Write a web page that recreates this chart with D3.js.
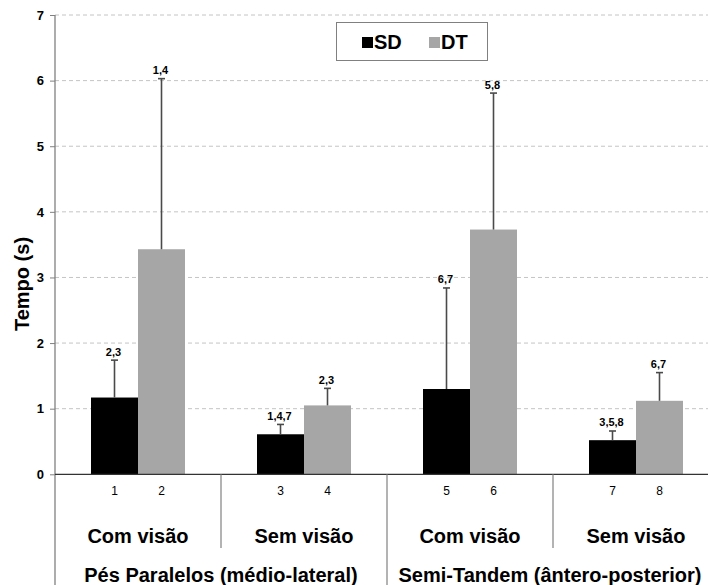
<!DOCTYPE html>
<html lang="pt">
<head>
<meta charset="utf-8"/>
<style>
	body {
		margin: 0;
		background-color: #FFFFFF;
	}
	* {
		font-family: "Liberation Sans", Arial, sans-serif;
	}
	.grid line {
		stroke: #c4c4c4;
		stroke-dasharray: 4,3;
	}
	.ytick {
		font-size: 13px;
		font-weight: bold;
	}
	.sig {
		font-size: 11px;
		font-weight: bold;
	}
	.big {
		font-size: 20px;
		font-weight: bold;
	}
</style>
</head>
<body>
<svg id="container" width="708" height="585"></svg>

<script src="https://d3js.org/d3.v7.min.js"></script>
<script>
	// data
	let conditions = ["Com visão", "Sem visão", "Com visão", "Sem visão"]
	let positions = ["Pés Paralelos (médio-lateral)", "Semi-Tandem (ântero-posterior)"]
	let series = ["SD", "DT"]
	let sdMean = [1.17, 0.61, 1.30, 0.52]
	let sdErr = [0.57, 0.15, 1.54, 0.14]
	let dtMean = [3.43, 1.05, 3.73, 1.12]
	let dtErr = [2.60, 0.26, 2.08, 0.43]
	let sdSig = ["2,3", "1,4,7", "6,7", "3,5,8"]
	let dtSig = ["1,4", "2,3", "5,8", "6,7"]
	let barNums = ["1", "2", "3", "4", "5", "6", "7", "8"]
	let yTicks = [0, 1, 2, 3, 4, 5, 6, 7]

	let svg = d3.select("svg")
	let colors = {SD: "#000000", DT: "#a6a6a6"}

	// flat table of bars built from the arrays above
	let bars = []
	conditions.forEach((c, i) => {
		bars.push({g: i, s: "SD", v: sdMean[i], e: sdErr[i], sig: sdSig[i], n: barNums[i * 2]})
		bars.push({g: i, s: "DT", v: dtMean[i], e: dtErr[i], sig: dtSig[i], n: barNums[i * 2 + 1]})
	})

	let plotLeft = 55, plotRight = 719, plotTop = 15, plotBottom = 474.3

	let yScale = d3.scaleLinear().domain([0, 7]).range([plotBottom, plotTop])
	let xGroup = d3.scaleBand().domain(d3.range(conditions.length)).range([plotLeft, plotRight])
	let xInner = d3.scaleBand().domain(series).range([0, xGroup.bandwidth()]).paddingOuter(0.766)

	// gridlines
	svg.append("g")
		.attr("class", "grid")
		.selectAll("line")
		.data(yTicks.slice(1))
		.join("line")
		.attr("x1", plotLeft).attr("x2", 708)
		.attr("y1", d => yScale(d)).attr("y2", d => yScale(d))

	// bars
	let bx = d => xGroup(d.g) + xInner(d.s)
	let bw = xInner.bandwidth()
	svg.append("g")
		.selectAll("rect")
		.data(bars)
		.join("rect")
		.attr("x", bx)
		.attr("width", bw)
		.attr("y", d => yScale(d.v))
		.attr("height", d => yScale(0) - yScale(d.v))
		.attr("fill", d => colors[d.s])

	// error bars (upper only)
	let err = svg.append("g").attr("stroke", "#4a4a4a").attr("stroke-width", 1.6)
	err.selectAll(".ev")
		.data(bars)
		.join("line")
		.attr("class", "ev")
		.attr("x1", d => bx(d) + bw / 2).attr("x2", d => bx(d) + bw / 2)
		.attr("y1", d => yScale(d.v)).attr("y2", d => yScale(d.v + d.e))
	err.selectAll(".cap")
		.data(bars)
		.join("line")
		.attr("class", "cap")
		.attr("x1", d => bx(d) + bw / 2 - 3.5).attr("x2", d => bx(d) + bw / 2 + 3.5)
		.attr("y1", d => yScale(d.v + d.e)).attr("y2", d => yScale(d.v + d.e))

	svg.append("g")
		.selectAll("text")
		.data(bars)
		.join("text")
		.attr("class", "sig")
		.attr("text-anchor", "middle")
		.attr("x", d => bx(d) + bw / 2 - 1)
		.attr("y", d => yScale(d.v + d.e) - 4.5)
		.text(d => d.sig)

	// y axis
	let yAxis = svg.append("g")
		.attr("transform", "translate(" + plotLeft + ",0)")
		.call(d3.axisLeft(yScale).tickValues(yTicks).tickSize(5).tickPadding(6).tickFormat(d3.format("d")))
	yAxis.select(".domain").remove()
	yAxis.selectAll("line").attr("stroke", "#808080")
	yAxis.selectAll("text").attr("class", "ytick").attr("fill", "#000")
	svg.append("line")
		.attr("x1", plotLeft).attr("x2", plotLeft).attr("y1", plotTop).attr("y2", 585)
		.attr("stroke", "#808080").attr("stroke-width", 1.3)

	// x axis line
	svg.append("line")
		.attr("x1", plotLeft).attr("x2", 708).attr("y1", plotBottom).attr("y2", plotBottom)
		.attr("stroke", "#333").attr("stroke-width", 1.2)

	// dividers between groups
	svg.append("g")
		.selectAll("line")
		.data([1, 2, 3])
		.join("line")
		.attr("x1", d => xGroup(d)).attr("x2", d => xGroup(d))
		.attr("y1", plotBottom).attr("y2", d => d == 2 ? 585 : 548)
		.attr("stroke", "#808080").attr("stroke-width", 1.2)

	// bar numbers
	svg.append("g")
		.selectAll("text")
		.data(bars)
		.join("text")
		.attr("text-anchor", "middle")
		.attr("font-size", "12px")
		.attr("x", d => bx(d) + bw / 2)
		.attr("y", 495)
		.text(d => d.n)

	// condition labels
	svg.append("g")
		.selectAll("text")
		.data(conditions)
		.join("text")
		.attr("class", "big")
		.attr("text-anchor", "middle")
		.attr("x", (d, i) => xGroup(i) + xGroup.bandwidth() / 2)
		.attr("y", 543)
		.text(d => d)

	// position labels
	svg.append("g")
		.selectAll("text")
		.data(positions)
		.join("text")
		.attr("class", "big")
		.attr("text-anchor", "middle")
		.attr("x", (d, i) => xGroup(i * 2) + xGroup.bandwidth() - (i == 1 ? 3 : 0))
		.attr("y", 582)
		.text(d => d)

	// y title
	svg.append("text")
		.attr("class", "big")
		.attr("text-anchor", "middle")
		.attr("transform", "translate(29,284) rotate(-90)")
		.text("Tempo (s)")

	// legend
	let legend = svg.append("g")
	legend.append("rect")
		.attr("x", 336.5).attr("y", 22.5).attr("width", 151).attr("height", 38)
		.attr("fill", "#fff").attr("stroke", "#808080")
	let lx = [362, 429]
	series.forEach((s, i) => {
		legend.append("rect")
			.attr("x", lx[i]).attr("y", 37).attr("width", 11).attr("height", 11)
			.attr("fill", colors[s])
		legend.append("text")
			.attr("class", "big")
			.attr("x", lx[i] + 12).attr("y", 49)
			.text(s)
	})
</script>
</body>
</html>
